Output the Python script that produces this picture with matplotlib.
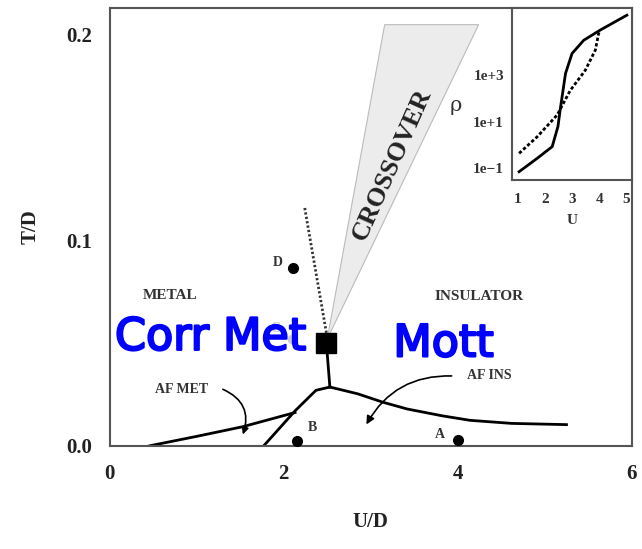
import matplotlib
matplotlib.use("Agg")
import matplotlib.pyplot as plt
import matplotlib.patheffects as pe
import numpy as np

# phase boundaries (U/D, T/D)
af_right_u = [2.53, 2.85, 3.14, 3.42, 3.82, 4.14, 4.62, 5.25]
af_right_t = [0.0286, 0.0253, 0.0212, 0.0179, 0.0146, 0.0124, 0.0109, 0.0103]
af_left_u = [1.77, 2.13, 2.37, 2.53]
af_left_t = [0.0, 0.017, 0.027, 0.0286]
afmet_u = [0.46, 1.0, 1.53, 2.13]
afmet_t = [0.0, 0.0046, 0.0093, 0.0162]
crit_u, crit_t = 2.49, 0.050
dotted_u = [2.49, 2.24]
dotted_t = [0.055, 0.116]
cross_u = [2.50, 3.16, 4.24]
cross_t = [0.052, 0.205, 0.205]

pts_name = ["A", "B", "D"]
pts_u = [4.0, 2.15, 2.11]
pts_t = [0.003, 0.0022, 0.0866]

# inset resistivity curves
ins_u1 = [1.05, 1.72, 2.27, 2.48, 2.58, 2.76, 3.0, 3.43, 4.04, 5.02]
ins_log1 = [-1.16, -0.58, -0.08, 0.78, 1.64, 3.07, 3.93, 4.5, 4.94, 5.58]
ins_u2 = [1.05, 1.72, 2.45, 2.94, 3.49, 3.86, 3.98, 4.04]
ins_log2 = [-0.37, 0.35, 1.28, 2.35, 3.21, 4.08, 4.79, 4.94]

serif = {"family": "Liberation Serif", "weight": "bold"}
grey_txt = "#333333"

fig = plt.figure(figsize=(6.42, 5.49), dpi=100)
ax = fig.add_axes([0.171, 0.188, 0.813, 0.797])
ax.set_xlim(0, 6)
ax.set_ylim(0, 0.213)

ax.fill(cross_u, cross_t, color="#ececec", ec="#bbbbbb", lw=0.8, zorder=1)
ax.text(3.25, 0.137, "CROSSOVER", rotation=66, ha="center", va="center",
        fontsize=19, color="#222222", **serif)
ax.plot(dotted_u, dotted_t, color="#333333", lw=2, ls=(0, (0.8, 0.8)), zorder=2)

ax.plot(af_right_u, af_right_t, color="k", lw=2)
ax.plot(af_left_u, af_left_t, color="k", lw=2)
ax.plot(afmet_u, afmet_t, color="k", lw=2)
ax.plot([crit_u, 2.53], [crit_t, 0.0286], color="k", lw=2)
ax.plot([crit_u], [crit_t], marker="s", ms=14, color="k", zorder=5)

ax.plot(pts_u, pts_t, "o", color="k", ms=7, zorder=5)
ax.text(3.8, 0.0055, "A", fontsize=10, ha="center", va="center", color=grey_txt, **serif)
ax.text(2.33, 0.0088, "B", fontsize=10, ha="center", va="center", color=grey_txt, **serif)
ax.text(1.93, 0.089, "D", fontsize=10, ha="center", va="center", color=grey_txt, **serif)
ax.plot([2.09], [0.052], "o", color="#cccccc", ms=6, zorder=2)
ax.text(1.9, 0.057, "C", fontsize=10, ha="center", va="center", color="#cccccc", **serif)

ax.text(0.69, 0.073, "METAL", fontsize=11, ha="center", va="center", color=grey_txt, **serif)
ax.text(4.25, 0.0725, "INSULATOR", fontsize=11, ha="center", va="center", color=grey_txt, **serif)

ax.text(0.82, 0.0275, "AF MET", fontsize=10, ha="center", va="center", color=grey_txt, **serif)
ax.annotate("", xy=(1.53, 0.0055), xytext=(1.3, 0.0275),
            arrowprops=dict(arrowstyle="-|>", color="k", lw=1.2, mutation_scale=10,
                            connectionstyle="arc3,rad=-0.45", shrinkA=0, shrinkB=0))
ax.text(4.36, 0.034, "AF INS", fontsize=10, ha="center", va="center", color=grey_txt, **serif)
ax.annotate("", xy=(2.95, 0.0104), xytext=(3.93, 0.034),
            arrowprops=dict(arrowstyle="-|>", color="k", lw=1.2, mutation_scale=12,
                            connectionstyle="arc3,rad=0.3", shrinkA=0, shrinkB=0))

blue_fx = [pe.withStroke(linewidth=1.6, foreground="#0000ff")]
ax.text(0.06, 0.0467, "Corr Met", fontsize=32, color="#0000ff", zorder=6,
        family="DejaVu Sans", path_effects=blue_fx)
ax.text(3.26, 0.0435, "Mott", fontsize=32, color="#0000ff", zorder=6,
        family="DejaVu Sans", path_effects=blue_fx)

ax.set_xticks([0, 2, 4, 6])
ax.set_xticklabels(["0", "2", "4", "6"])
ax.set_yticks([0.0, 0.1, 0.2])
ax.set_yticklabels(["0.0", "0.1", "0.2"])
ax.tick_params(length=0, pad=13, labelsize=15)
for lab in ax.get_xticklabels() + ax.get_yticklabels():
    lab.set_fontfamily("Liberation Serif")
    lab.set_fontweight("bold")
    lab.set_color("#222222")
ax.set_xlabel("U/D", fontsize=15, labelpad=20, color="#222222", **serif)
ax.set_ylabel("T/D", fontsize=15, labelpad=18, color="#222222", **serif)
for s in ax.spines.values():
    s.set_linewidth(1.5)
    s.set_color("#555555")

# inset
ins = fig.add_axes([0.798, 0.672, 0.186, 0.313])
ins.plot(ins_u1, 10 ** np.array(ins_log1), color="k", lw=2)
ins.plot(ins_u2, 10 ** np.array(ins_log2), color="k", lw=2, ls=(0, (1.2, 0.8)))
ins.set_yscale("log")
ins.set_xlim(0.8, 5.2)
ins.set_ylim(10 ** -1.52, 10 ** 5.88)
ins.set_xticks([1, 2, 3, 4, 5])
ins.set_yticks([0.1, 10, 1000])
ins.set_yticklabels(["1e\u22121", "1e+1", "1e+3"])
ins.minorticks_off()
ins.tick_params(axis="y", length=0, pad=6, labelsize=11)
ins.tick_params(axis="x", length=0, pad=9, labelsize=11)
for lab in ins.get_xticklabels() + ins.get_yticklabels():
    lab.set_fontfamily("Liberation Serif")
    lab.set_fontweight("bold")
    lab.set_color(grey_txt)
ins.set_xlabel("U", fontsize=11, labelpad=6, color=grey_txt, **serif)
ins.set_ylabel("\u03c1", fontsize=15, rotation=0, color=grey_txt, family="DejaVu Serif")
ins.yaxis.set_label_coords(-0.47, 0.38)
for s in ins.spines.values():
    s.set_linewidth(1.5)
    s.set_color("#555555")

fig.savefig("out.png", dpi=100)
